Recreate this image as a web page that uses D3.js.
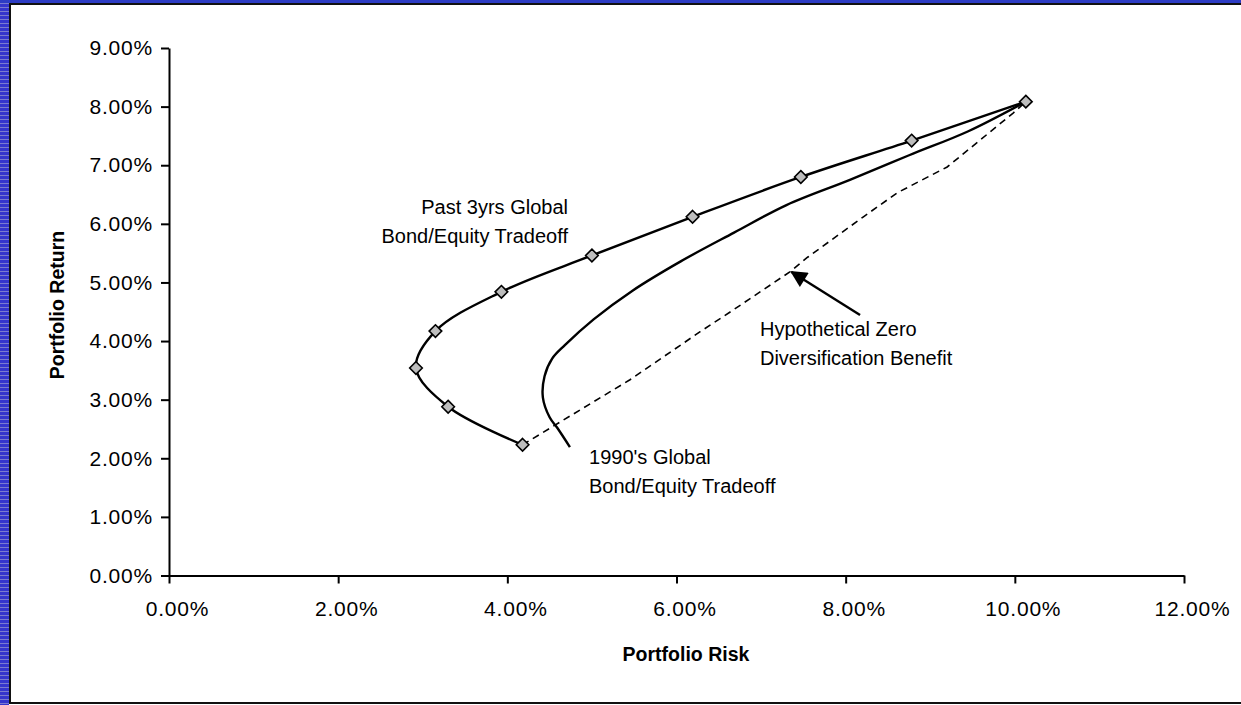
<!DOCTYPE html>
<html><head><meta charset="utf-8">
<script src="https://cdn.jsdelivr.net/npm/d3@7/dist/d3.min.js"></script>
<style>
body{margin:0;background:#fff}
svg{display:block}
text{font-family:"Liberation Sans",Arial,sans-serif;fill:#000}
</style>
</head><body>
<svg id="c" width="1241" height="705"></svg>
<script>
// ---- data (percent units) ----
const xTickValues=[0,2,4,6,8,10,12];
const yTickValues=[0,1,2,3,4,5,6,7,8,9];
const xTitle="Portfolio Risk";
const yTitle="Portfolio Return";

// Past 3yrs Global Bond/Equity Tradeoff (with markers)
const past3Risk  =[4.18,3.30,2.92,3.15,3.93,5.00,6.19,7.47,8.78,10.13];
const past3Return=[2.23,2.88,3.54,4.17,4.84,5.46,6.12,6.80,7.42,8.085];

// 1990's Global Bond/Equity Tradeoff (smooth, no markers)
const n90Risk  =[4.74,4.59,4.50,4.42,4.44,4.53,4.68,5.02,5.48,6.05,6.68,7.30,8.05,8.75,9.45,10.13];
const n90Return=[2.19,2.52,2.70,3.04,3.40,3.70,3.93,4.37,4.86,5.36,5.85,6.32,6.75,7.17,7.58,8.085];

// Hypothetical zero diversification benefit (dashed)
const zeroRisk  =[4.18,5.45,6.28,6.67,7.34,7.55,8.21,8.61,9.20,9.59,9.98,10.13];
const zeroReturn=[2.23,3.34,4.16,4.53,5.18,5.43,6.12,6.53,6.97,7.43,7.89,8.085];

// annotations
const labelPast=["Past 3yrs Global","Bond/Equity Tradeoff"];
const labelNineties=["1990's Global","Bond/Equity Tradeoff"];
const labelZero=["Hypothetical Zero","Diversification Benefit"];

// ---- layout ----
const svg=d3.select("#c");
const W=1241,H=705;
const x=d3.scaleLinear().domain([0,12]).range([169,1184]);
const y=d3.scaleLinear().domain([0,9]).range([575.5,48]);

// frame
const defs=svg.append("defs");
const pat=defs.append("pattern").attr("id","stripe").attr("patternUnits","userSpaceOnUse")
  .attr("width",10).attr("height",4);
pat.append("rect").attr("width",10).attr("height",4).attr("fill","#3535cc");
pat.append("rect").attr("y",3).attr("width",10).attr("height",1).attr("fill","#7a7ad0");
svg.append("rect").attr("x",0).attr("y",0).attr("width",W).attr("height",H).attr("fill","#fff");
svg.append("rect").attr("x",0).attr("y",0).attr("width",9).attr("height",H).attr("fill","url(#stripe)");
svg.append("rect").attr("x",0).attr("y",0).attr("width",W).attr("height",3).attr("fill","#2d3cc4");
svg.append("path").attr("d",`M${W},4 H10 V703 H${W}`).attr("fill","none").attr("stroke","#111").attr("stroke-width",2);

// axes
const fmt=d=>d.toFixed(2)+"%";
const gx=svg.append("g").attr("transform",`translate(0,${y(0)})`)
  .call(d3.axisBottom(x).tickValues(xTickValues).tickFormat(fmt).tickSize(8).tickSizeOuter(0).tickPadding(18));
const gy=svg.append("g").attr("transform",`translate(${x(0)},0)`)
  .call(d3.axisLeft(y).tickValues(yTickValues).tickFormat(fmt).tickSize(8).tickSizeOuter(0).tickPadding(8));
[gx,gy].forEach(g=>{
  g.select(".domain").attr("stroke","#000").attr("stroke-width",2);
  g.selectAll(".tick line").attr("stroke","#000").attr("stroke-width",2);
  g.selectAll(".tick text").attr("font-size",21).attr("font-family","Liberation Sans, Arial, sans-serif")
    .style("letter-spacing","0.8px").attr("fill","#000");
});
gx.selectAll(".tick text").attr("dx",8);

svg.append("text").attr("x",686).attr("y",661).attr("text-anchor","middle")
  .attr("font-size",19.5).attr("font-weight","bold").text(xTitle);
svg.append("text").attr("transform","translate(64,305) rotate(-90)").attr("text-anchor","middle")
  .attr("font-size",19.5).attr("font-weight","bold").text(yTitle);

// series
const zip=(a,b)=>a.map((v,i)=>[v,b[i]]);
const lineSmooth=d3.line().x(d=>x(d[0])).y(d=>y(d[1])).curve(d3.curveCatmullRom.alpha(0.5));
const lineStraight=d3.line().x(d=>x(d[0])).y(d=>y(d[1]));

svg.append("path").datum(zip(zeroRisk,zeroReturn)).attr("d",lineStraight)
  .attr("fill","none").attr("stroke","#000").attr("stroke-width",1.6).attr("stroke-dasharray","7,5");
svg.append("path").datum(zip(n90Risk,n90Return)).attr("d",lineSmooth)
  .attr("fill","none").attr("stroke","#000").attr("stroke-width",2.4).attr("stroke-linejoin","round");
const past=zip(past3Risk,past3Return);
svg.append("path").datum(past).attr("d",lineSmooth)
  .attr("fill","none").attr("stroke","#000").attr("stroke-width",2.4).attr("stroke-linejoin","round");
svg.append("g").selectAll("path").data(past).join("path")
  .attr("d",d=>{const cx=x(d[0]),cy=y(d[1]),r=6.3;return `M${cx},${cy-r}L${cx+r},${cy}L${cx},${cy+r}L${cx-r},${cy}Z`;})
  .attr("fill","#bdbdbd").attr("stroke","#000").attr("stroke-width",1.6);

// annotations (anchored in data units)
function label(lines,dx,dy,anchor){
  const t=svg.append("text").attr("font-size",20).attr("text-anchor",anchor);
  lines.forEach((s,i)=>t.append("tspan").attr("x",x(dx)).attr("y",y(dy)+i*29.5).text(s));
}
label(labelPast,4.717,6.169,"end");
label(labelNineties,4.966,1.903,"start");
label(labelZero,6.987,4.087,"start");

// arrow
defs.append("marker").attr("id","ah").attr("viewBox","0 0 10 10").attr("refX",9).attr("refY",5)
  .attr("markerWidth",8).attr("markerHeight",7).attr("markerUnits","strokeWidth").attr("orient","auto")
  .append("path").attr("d","M0,0L10,5L0,10Z").attr("fill","#000");
const arrowFrom=[8.17,4.445], arrowTo=[7.36,5.18];
svg.append("line").attr("x1",x(arrowFrom[0])).attr("y1",y(arrowFrom[1]))
  .attr("x2",x(arrowTo[0])).attr("y2",y(arrowTo[1]))
  .attr("stroke","#000").attr("stroke-width",2.4).attr("marker-end","url(#ah)");
</script>
</body></html>
